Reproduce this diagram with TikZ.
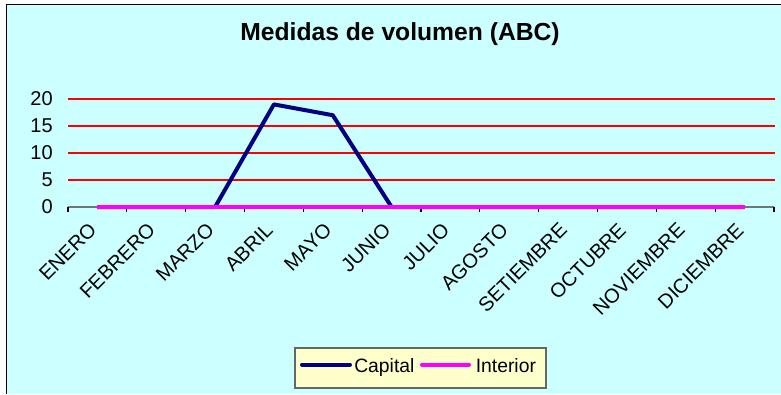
\documentclass[tikz,border=0pt]{standalone}
\usepackage{fontspec}
\setmainfont{Liberation Sans}
\definecolor{bgcyan}{HTML}{CCFFFF}
\definecolor{legbg}{HTML}{FFFFCC}
\definecolor{navyc}{HTML}{000080}
\definecolor{magc}{HTML}{FF00FF}
\definecolor{axgray}{HTML}{6A7878}
\begin{document}
\begin{tikzpicture}[x=0.75pt,y=-0.75pt,
  grid/.style={red, line width=1.2pt},
  axisline/.style={axgray, line width=1pt},
  ticktick/.style={black, line width=0.8pt},
  ylab/.style={anchor=east, inner sep=0pt, font=\fontsize{15}{17}\selectfont},
  catlabel/.style={anchor=east, inner sep=0pt, rotate=45, font=\fontsize{15}{17}\selectfont},
  capline/.style={navyc, line width=3pt, line join=round},
  intline/.style={magc, line width=3pt, line join=round},
  legendbox/.style={draw=black!60, fill=legbg, line width=0.8pt, minimum width=188.25pt, minimum height=30pt, inner sep=0pt},
  legtext/.style={anchor=base west, inner sep=0pt, font=\fontsize{14.5}{16}\selectfont},
  charttitle/.style={anchor=base, inner sep=0pt, font=\fontsize{18.5}{22}\selectfont\bfseries}
]
\useasboundingbox (0,0) rectangle (781,394);
\fill[white] (0,0) rectangle (781,394);
\fill[bgcyan] (6,4) rectangle (781,394);
\draw[black, line width=1pt] (6.5,394) -- (6.5,4.5) -- (781,4.5);

% title
\node[charttitle] (title) at (400,40.5) {Medidas de volumen (ABC)};

% grid lines and y labels
\foreach \v in {5,10,15,20} {
  \draw[grid] (68,{207-\v*5.4}) -- (775,{207-\v*5.4});
}
\foreach \v in {0,5,10,15,20} {
  \node[ylab] (y\v) at (53,{207-\v*5.4}) {\v};
}

% x axis
\draw[axisline] (68,207) -- (774,207);
\foreach \i in {0,...,12} {
  \draw[ticktick] ({68+\i*58.833},207) -- ++(0,5);
}

% category labels
\foreach \m [count=\i] in {ENERO,FEBRERO,MARZO,ABRIL,MAYO,JUNIO,JULIO,AGOSTO,SETIEMBRE,OCTUBRE,NOVIEMBRE,DICIEMBRE} {
  \node[catlabel] (m\i) at ({68+(\i-0.5)*58.833-4.5},226.5) {\m};
}

% data points
\foreach \val [count=\i] in {0,0,0,19,17,0,0,0,0,0,0,0} {
  \coordinate (c\i) at ({68+(\i-0.5)*58.833},{207-\val*5.4});
  \coordinate (n\i) at ({68+(\i-0.5)*58.833},207);
}
\draw[capline] (c1) -- (c2) -- (c3) -- (c4) -- (c5) -- (c6) -- (c7) -- (c8) -- (c9) -- (c10) -- (c11) -- (c12);
\draw[intline] (n1) -- (n2) -- (n3) -- (n4) -- (n5) -- (n6) -- (n7) -- (n8) -- (n9) -- (n10) -- (n11) -- (n12);

% legend
\node[legendbox] (leg) at (420.5,368) {};
\coordinate (la1) at (302,364.5);
\coordinate (la2) at (350,364.5);
\coordinate (lb1) at (422,364.5);
\coordinate (lb2) at (469,364.5);
\draw[capline, line cap=round] (la1) -- (la2);
\draw[intline, line cap=round] (lb1) -- (lb2);
\node[legtext] (lcap) at (354,372) {Capital};
\node[legtext] (lint) at (475.5,372) {Interior};
\end{tikzpicture}
\end{document}
